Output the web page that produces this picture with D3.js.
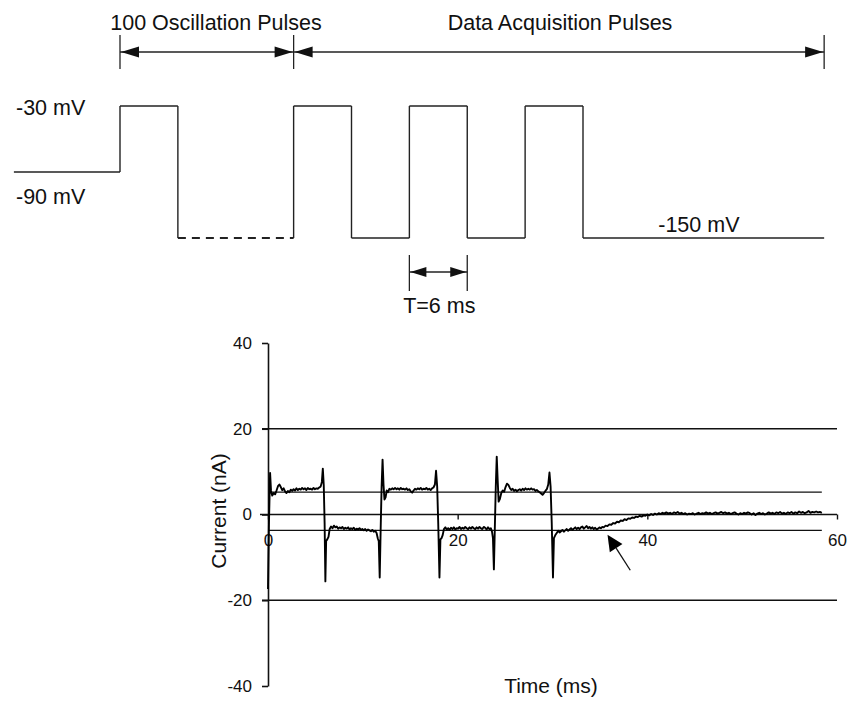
<!DOCTYPE html>
<html>
<head>
<meta charset="utf-8">
<script src="https://cdn.jsdelivr.net/npm/d3@7"></script>
<style>
  body { margin: 0; background: #fff; }
  text { font-family: "Liberation Sans", Arial, sans-serif; fill: #111; }
</style>
</head>
<body>
<div id="chart"></div>
<script>
// ---- protocol (top) data ----
// step times in schematic ms, one level per segment between consecutive times
const waveTimes = [0, 11, 17, 29, 35, 41, 47, 53, 59, 84];
const waveLevels = [-90, -30, -150, -30, -150, -30, -150, -30, -150];
const dashedSegments = [2];           // the 100 oscillation pulses, drawn as dashes
const bracketTimes = [11, 29, 84];
const bracketLabels = ["100 Oscillation Pulses", "Data Acquisition Pulses"];
const periodTimes = [41, 47];
const periodLabel = "T=6 ms";
const levelLabels = ["-30 mV", "-90 mV", "-150 mV"];

// ---- current trace (bottom) data ----
const yTicks = [-40, -20, 0, 20, 40];
const xTicks = [0, 20, 40, 60];
const gridLevels = [20, -20];
const refLevels = [5.2, -3.7];
const arrowFrom = [38.2, -13];
const arrowTo = [35.8, -4.7];

// [time ms, current nA]
const trace = [
  [0.00,-17.4],[0.10,-2],[0.22,9.7],[0.32,5.5],[0.45,4.4],[0.6,5.0],[0.75,4.7],[0.9,5.6],[1.05,6.6],[1.2,7.0],
  [1.35,6.4],[1.5,5.7],[1.65,6.1],[1.8,5.4],[1.95,5.0],[2.1,5.5],[2.25,5.2],[2.4,5.8],[2.55,5.5],[2.7,5.9],
  [2.85,5.6],[3.0,6.1],[3.15,5.7],[3.3,6.0],[3.45,5.8],[3.6,6.2],[3.75,5.9],[3.9,6.1],[4.05,5.7],[4.2,6.2],
  [4.35,5.9],[4.5,6.0],[4.65,5.8],[4.8,6.2],[4.95,5.9],[5.1,6.1],[5.25,6.0],[5.4,6.3],[5.55,6.5],[5.68,7.6],
  [5.78,10.7],[5.88,6.8],[5.97,-2],
  [6.05,-15.6],[6.13,-6.2],[6.25,-5.8],[6.38,-5.2],[6.5,-3.4],[6.65,-2.8],[6.8,-3.2],[6.95,-2.6],[7.1,-3.0],
  [7.25,-2.8],[7.4,-3.3],[7.55,-3.0],[7.7,-3.2],[7.85,-2.9],[8.0,-3.4],[8.15,-3.1],[8.3,-3.3],[8.45,-3.0],
  [8.6,-3.5],[8.75,-3.2],[8.9,-3.4],[9.05,-3.1],[9.2,-3.6],[9.35,-3.3],[9.5,-3.5],[9.65,-3.2],[9.8,-3.6],
  [9.95,-3.4],[10.1,-3.7],[10.25,-3.4],[10.4,-3.8],[10.55,-3.5],[10.7,-3.7],[10.85,-3.9],[11.0,-3.6],
  [11.15,-4.0],[11.3,-3.8],[11.45,-4.3],[11.58,-5.6],[11.68,-6.2],[11.78,-14.7],[11.88,-3.5],
  [11.98,6.5],[12.08,12.8],[12.18,7],[12.28,3.5],[12.4,4.0],[12.52,5.6],[12.65,5.2],[12.8,6.0],[12.95,5.8],
  [13.1,6.1],[13.25,5.9],[13.4,6.2],[13.55,5.9],[13.7,6.1],[13.85,5.8],[14.0,6.2],[14.15,5.9],[14.3,6.0],
  [14.45,5.8],[14.6,6.1],[14.75,5.7],[14.9,5.9],[15.05,5.4],[15.2,5.1],[15.35,5.6],[15.5,6.0],[15.65,5.8],
  [15.8,6.1],[15.95,5.9],[16.1,6.2],[16.25,5.8],[16.4,6.0],[16.55,5.9],[16.7,6.2],[16.85,5.8],[17.0,6.0],
  [17.15,5.7],[17.3,6.1],[17.45,6.3],[17.6,7.0],[17.72,10.2],[17.84,6.5],[17.95,-2],
  [18.08,-14.7],[18.18,-5.8],[18.3,-5.5],[18.42,-4.8],[18.55,-3.4],[18.7,-3.0],[18.85,-3.5],[19.0,-3.2],
  [19.15,-3.6],[19.3,-3.1],[19.45,-3.4],[19.6,-3.0],[19.75,-3.5],[19.9,-3.2],[20.05,-3.3],[20.2,-2.9],
  [20.35,-3.4],[20.5,-3.1],[20.65,-3.3],[20.8,-2.9],[20.95,-3.2],[21.1,-3.4],[21.25,-3.0],[21.4,-3.3],
  [21.55,-2.9],[21.7,-3.2],[21.85,-3.4],[22.0,-3.0],[22.15,-3.3],[22.3,-2.9],[22.45,-3.2],[22.6,-3.4],
  [22.75,-2.9],[22.9,-3.1],[23.05,-3.5],[23.2,-3.0],[23.35,-3.4],[23.5,-3.2],[23.62,-4.0],[23.72,-5.5],
  [23.82,-12.8],[23.92,-3],
  [24.02,6.5],[24.12,13.5],[24.22,8],[24.32,3.0],[24.45,3.6],[24.6,5.0],[24.75,5.6],[24.9,5.3],[25.05,6.4],
  [25.2,7.2],[25.35,6.9],[25.5,6.2],[25.65,5.7],[25.8,6.0],[25.95,5.5],[26.1,5.8],[26.25,5.4],[26.4,5.7],
  [26.55,5.9],[26.7,5.6],[26.85,6.0],[27.0,5.7],[27.15,6.1],[27.3,5.8],[27.45,6.0],[27.6,5.8],[27.75,6.1],
  [27.9,5.8],[28.05,5.9],[28.2,5.5],[28.35,5.7],[28.5,5.4],[28.65,5.2],[28.8,4.9],[28.95,4.6],[29.1,5.0],
  [29.25,5.5],[29.4,5.9],[29.55,7.0],[29.68,9.8],[29.8,6.5],[29.92,-2],
  [30.05,-14.7],[30.15,-5.5],[30.3,-4.8],[30.45,-4.3],[30.6,-3.8],[30.75,-4.2],[30.9,-3.9],[31.05,-3.6],
  [31.2,-4.0],[31.35,-3.7],[31.5,-3.4],[31.65,-3.8],[31.8,-3.5],[31.95,-3.2],[32.1,-3.6],[32.25,-3.3],
  [32.4,-3.0],[32.55,-3.4],[32.7,-3.1],[32.85,-3.4],[33.0,-3.0],[33.15,-2.8],[33.3,-3.3],[33.45,-3.0],
  [33.6,-2.7],[33.75,-3.2],[33.9,-2.9],[34.05,-3.3],[34.2,-3.0],[34.35,-3.4],[34.5,-3.1],[34.65,-3.5],
  [34.8,-3.3],[34.95,-3.0],[35.1,-3.2],[35.25,-2.9],[35.4,-3.0],[35.6,-2.6],[35.8,-2.7],[36.0,-2.3],
  [36.2,-2.4],[36.4,-2.0],[36.6,-2.1],[36.8,-1.7],[37.0,-1.8],[37.2,-1.4],[37.4,-1.5],[37.6,-1.1],
  [37.8,-1.3],[38.0,-0.9],[38.2,-1.0],[38.4,-0.7],[38.6,-0.8],[38.8,-0.5],[39.0,-0.6],[39.2,-0.3],
  [39.4,-0.5],[39.6,-0.2],[39.8,-0.3],[40.0,0.0],[40.2,-0.2],[40.4,0.1],[40.6,-0.1],[40.8,0.2],[41.0,0.0],
  [41.2,0.3],[41.4,0.1],[41.6,0.4],[41.8,0.2],[42.0,0.5],[42.2,0.2],[42.4,0.4],[42.6,0.1],[42.8,0.5],
  [43.0,0.3],[43.2,0.6],[43.4,0.2],[43.6,0.4],[43.8,0.1],[44.0,0.3],[44.2,0.0],[44.4,0.2],[44.6,0.1],
  [44.8,0.3],[45.0,0.0],[45.2,0.2],[45.4,0.4],[45.6,0.1],[45.8,0.3],[46.0,0.2],[46.2,0.5],[46.4,0.2],
  [46.6,0.4],[46.8,0.1],[47.0,0.3],[47.2,0.5],[47.4,0.2],[47.6,0.4],[47.8,0.6],[48.0,0.3],[48.2,0.5],
  [48.4,0.2],[48.6,0.4],[48.8,0.1],[49.0,0.3],[49.2,0.5],[49.4,0.2],[49.6,0.0],[49.8,0.3],[50.0,0.1],
  [50.2,0.4],[50.4,0.2],[50.6,0.5],[50.8,0.3],[51.0,0.0],[51.2,0.3],[51.4,-0.1],[51.6,0.2],[51.8,0.4],
  [52.0,0.1],[52.2,0.3],[52.4,0.0],[52.6,0.2],[52.8,0.5],[53.0,0.2],[53.2,0.4],[53.4,0.1],[53.6,0.5],
  [53.8,0.3],[54.0,0.6],[54.2,0.2],[54.4,0.4],[54.6,0.1],[54.8,0.5],[55.0,0.3],[55.2,0.6],[55.4,0.2],
  [55.6,0.5],[55.8,0.3],[56.0,0.7],[56.2,0.4],[56.4,0.6],[56.6,0.3],[56.8,0.5],[57.0,0.8],[57.2,0.4],
  [57.4,0.6],[57.6,0.5],[57.8,0.7],[58.0,0.5],[58.2,0.6],[58.4,0.4]
];

const width = 856, height = 701;

const svg = d3.select("#chart").append("svg")
    .attr("width", width)
    .attr("height", height);

//filled triangle, tip at (x,y), pointing in dir (+1 right, -1 left)
function arrowHead(g, x, y, dir, len, half) {
    g.append("path")
        .attr("d", `M${x},${y}L${x - dir * len},${y - half}L${x - dir * len},${y + half}Z`)
        .attr("fill", "#111");
}

// ================= top: stimulation protocol =================
const proto = svg.append("g");
const xs = d3.scaleLinear().domain([11, 59]).range([120, 583]);
const vs = d3.scaleLinear().domain([-30, -150]).range([106, 238]);

waveLevels.forEach((lv, i) => {
    proto.append("line")
        .attr("x1", xs(waveTimes[i])).attr("x2", xs(waveTimes[i + 1]))
        .attr("y1", vs(lv)).attr("y2", vs(lv))
        .attr("stroke", "#222")
        .attr("stroke-width", dashedSegments.includes(i) ? 2 : 1.4)
        .attr("stroke-dasharray", dashedSegments.includes(i) ? "8,6" : null);
    if (i > 0) {
        proto.append("line")
            .attr("x1", xs(waveTimes[i])).attr("x2", xs(waveTimes[i]))
            .attr("y1", vs(waveLevels[i - 1])).attr("y2", vs(lv))
            .attr("stroke", "#222")
            .attr("stroke-width", 1.4);
    }
});

// brackets with double arrows
const bracketY = 52;
bracketTimes.forEach(t => {
    proto.append("line")
        .attr("x1", xs(t)).attr("x2", xs(t))
        .attr("y1", 35).attr("y2", 69)
        .attr("stroke", "#222").attr("stroke-width", 1.3);
});
bracketLabels.forEach((lab, i) => {
    const x1 = xs(bracketTimes[i]), x2 = xs(bracketTimes[i + 1]);
    proto.append("line")
        .attr("x1", x1).attr("x2", x2)
        .attr("y1", bracketY).attr("y2", bracketY)
        .attr("stroke", "#222").attr("stroke-width", 1.3);
    arrowHead(proto, x1 + 1, bracketY, -1, 18, 5.5);
    arrowHead(proto, x2 - 1, bracketY, 1, 18, 5.5);
    proto.append("text")
        .attr("x", i == 0 ? 216 : 560)
        .attr("y", 30)
        .attr("text-anchor", "middle")
        .attr("font-size", 21.5)
        .text(lab);
});

// period marker
const pY = 272;
periodTimes.forEach(t => {
    proto.append("line")
        .attr("x1", xs(t)).attr("x2", xs(t))
        .attr("y1", 255).attr("y2", 291)
        .attr("stroke", "#222").attr("stroke-width", 1.3);
});
proto.append("line")
    .attr("x1", xs(periodTimes[0])).attr("x2", xs(periodTimes[1]))
    .attr("y1", pY).attr("y2", pY)
    .attr("stroke", "#222").attr("stroke-width", 1.3);
arrowHead(proto, xs(periodTimes[0]) + 1, pY, -1, 16, 5);
arrowHead(proto, xs(periodTimes[1]) - 1, pY, 1, 16, 5);
proto.append("text")
    .attr("x", d3.mean(periodTimes.map(xs)) + 1)
    .attr("y", 313)
    .attr("text-anchor", "middle")
    .attr("font-size", 21.5)
    .text(periodLabel);

// level labels
proto.append("text").attr("x", 16).attr("y", vs(-30) + 9).attr("font-size", 21.5).text(levelLabels[0]);
proto.append("text").attr("x", 16).attr("y", vs(-90) + 32).attr("font-size", 21.5).text(levelLabels[1]);
proto.append("text").attr("x", xs(66.8)).attr("y", vs(-150) - 6).attr("font-size", 21.5).text(levelLabels[2]);

// ================= bottom: current trace =================
const bot = svg.append("g");
const x = d3.scaleLinear().domain([0, 60]).range([268, 837]);
const y = d3.scaleLinear().domain([-40, 40]).range([686, 343]);

// horizontal grid lines at +-20
bot.selectAll(".grid")
    .data(gridLevels)
    .enter()
    .append("line")
    .attr("x1", x(0) - 6).attr("x2", x(60))
    .attr("y1", d => y(d)).attr("y2", d => y(d))
    .attr("stroke", "#111").attr("stroke-width", 1.4);

// reference levels of the plateaus
bot.selectAll(".ref")
    .data(refLevels)
    .enter()
    .append("line")
    .attr("x1", x(0)).attr("x2", x(58.4))
    .attr("y1", d => y(d)).attr("y2", d => y(d))
    .attr("stroke", "#111").attr("stroke-width", 1.3);

// y axis
const yAxis = bot.append("g")
    .attr("transform", `translate(${x(0)},0)`)
    .call(d3.axisLeft(y).tickValues(yTicks).tickSize(6).tickSizeOuter(0).tickPadding(10).tickFormat(d => d));
yAxis.selectAll("path, line").attr("stroke", "#111").attr("stroke-width", 1.6);
yAxis.selectAll("text").attr("font-size", 17).attr("font-family", "Liberation Sans, Arial, sans-serif").attr("fill", "#111");

// x axis along zero
const xAxis = bot.append("g")
    .attr("transform", `translate(0,${y(0)})`)
    .call(d3.axisBottom(x).tickValues(xTicks).tickSize(5).tickSizeOuter(0).tickPadding(14).tickFormat(d => d));
xAxis.select(".domain").attr("d", `M${x(0) - 8},0H${x(60)}`);
xAxis.selectAll("path, line").attr("stroke", "#111").attr("stroke-width", 1.4);
xAxis.selectAll("text").attr("font-size", 17).attr("font-family", "Liberation Sans, Arial, sans-serif").attr("fill", "#111");

// trace
const line = d3.line()
    .x(d => x(d[0]))
    .y(d => y(d[1]));
bot.append("path")
    .datum(trace)
    .attr("d", line)
    .attr("fill", "none")
    .attr("stroke", "#000")
    .attr("stroke-width", 1.9)
    .attr("stroke-linejoin", "round");

// annotation arrow
const ax1 = x(arrowFrom[0]), ay1 = y(arrowFrom[1]);
const ax2 = x(arrowTo[0]), ay2 = y(arrowTo[1]);
const ang = Math.atan2(ay2 - ay1, ax2 - ax1);
const hl = 16, hw = 7.5;
const bx = ax2 - hl * Math.cos(ang), by = ay2 - hl * Math.sin(ang);
bot.append("line")
    .attr("x1", ax1).attr("y1", ay1)
    .attr("x2", bx).attr("y2", by)
    .attr("stroke", "#111").attr("stroke-width", 1.3);
bot.append("path")
    .attr("d", `M${ax2},${ay2}L${bx + hw * Math.sin(ang)},${by - hw * Math.cos(ang)}L${bx - hw * Math.sin(ang)},${by + hw * Math.cos(ang)}Z`)
    .attr("fill", "#000");

// axis titles
bot.append("text")
    .attr("transform", "translate(226,511) rotate(-90)")
    .attr("text-anchor", "middle")
    .attr("font-size", 21)
    .text("Current (nA)");
bot.append("text")
    .attr("x", 551)
    .attr("y", 693)
    .attr("text-anchor", "middle")
    .attr("font-size", 21)
    .text("Time (ms)");
</script>
</body>
</html>
